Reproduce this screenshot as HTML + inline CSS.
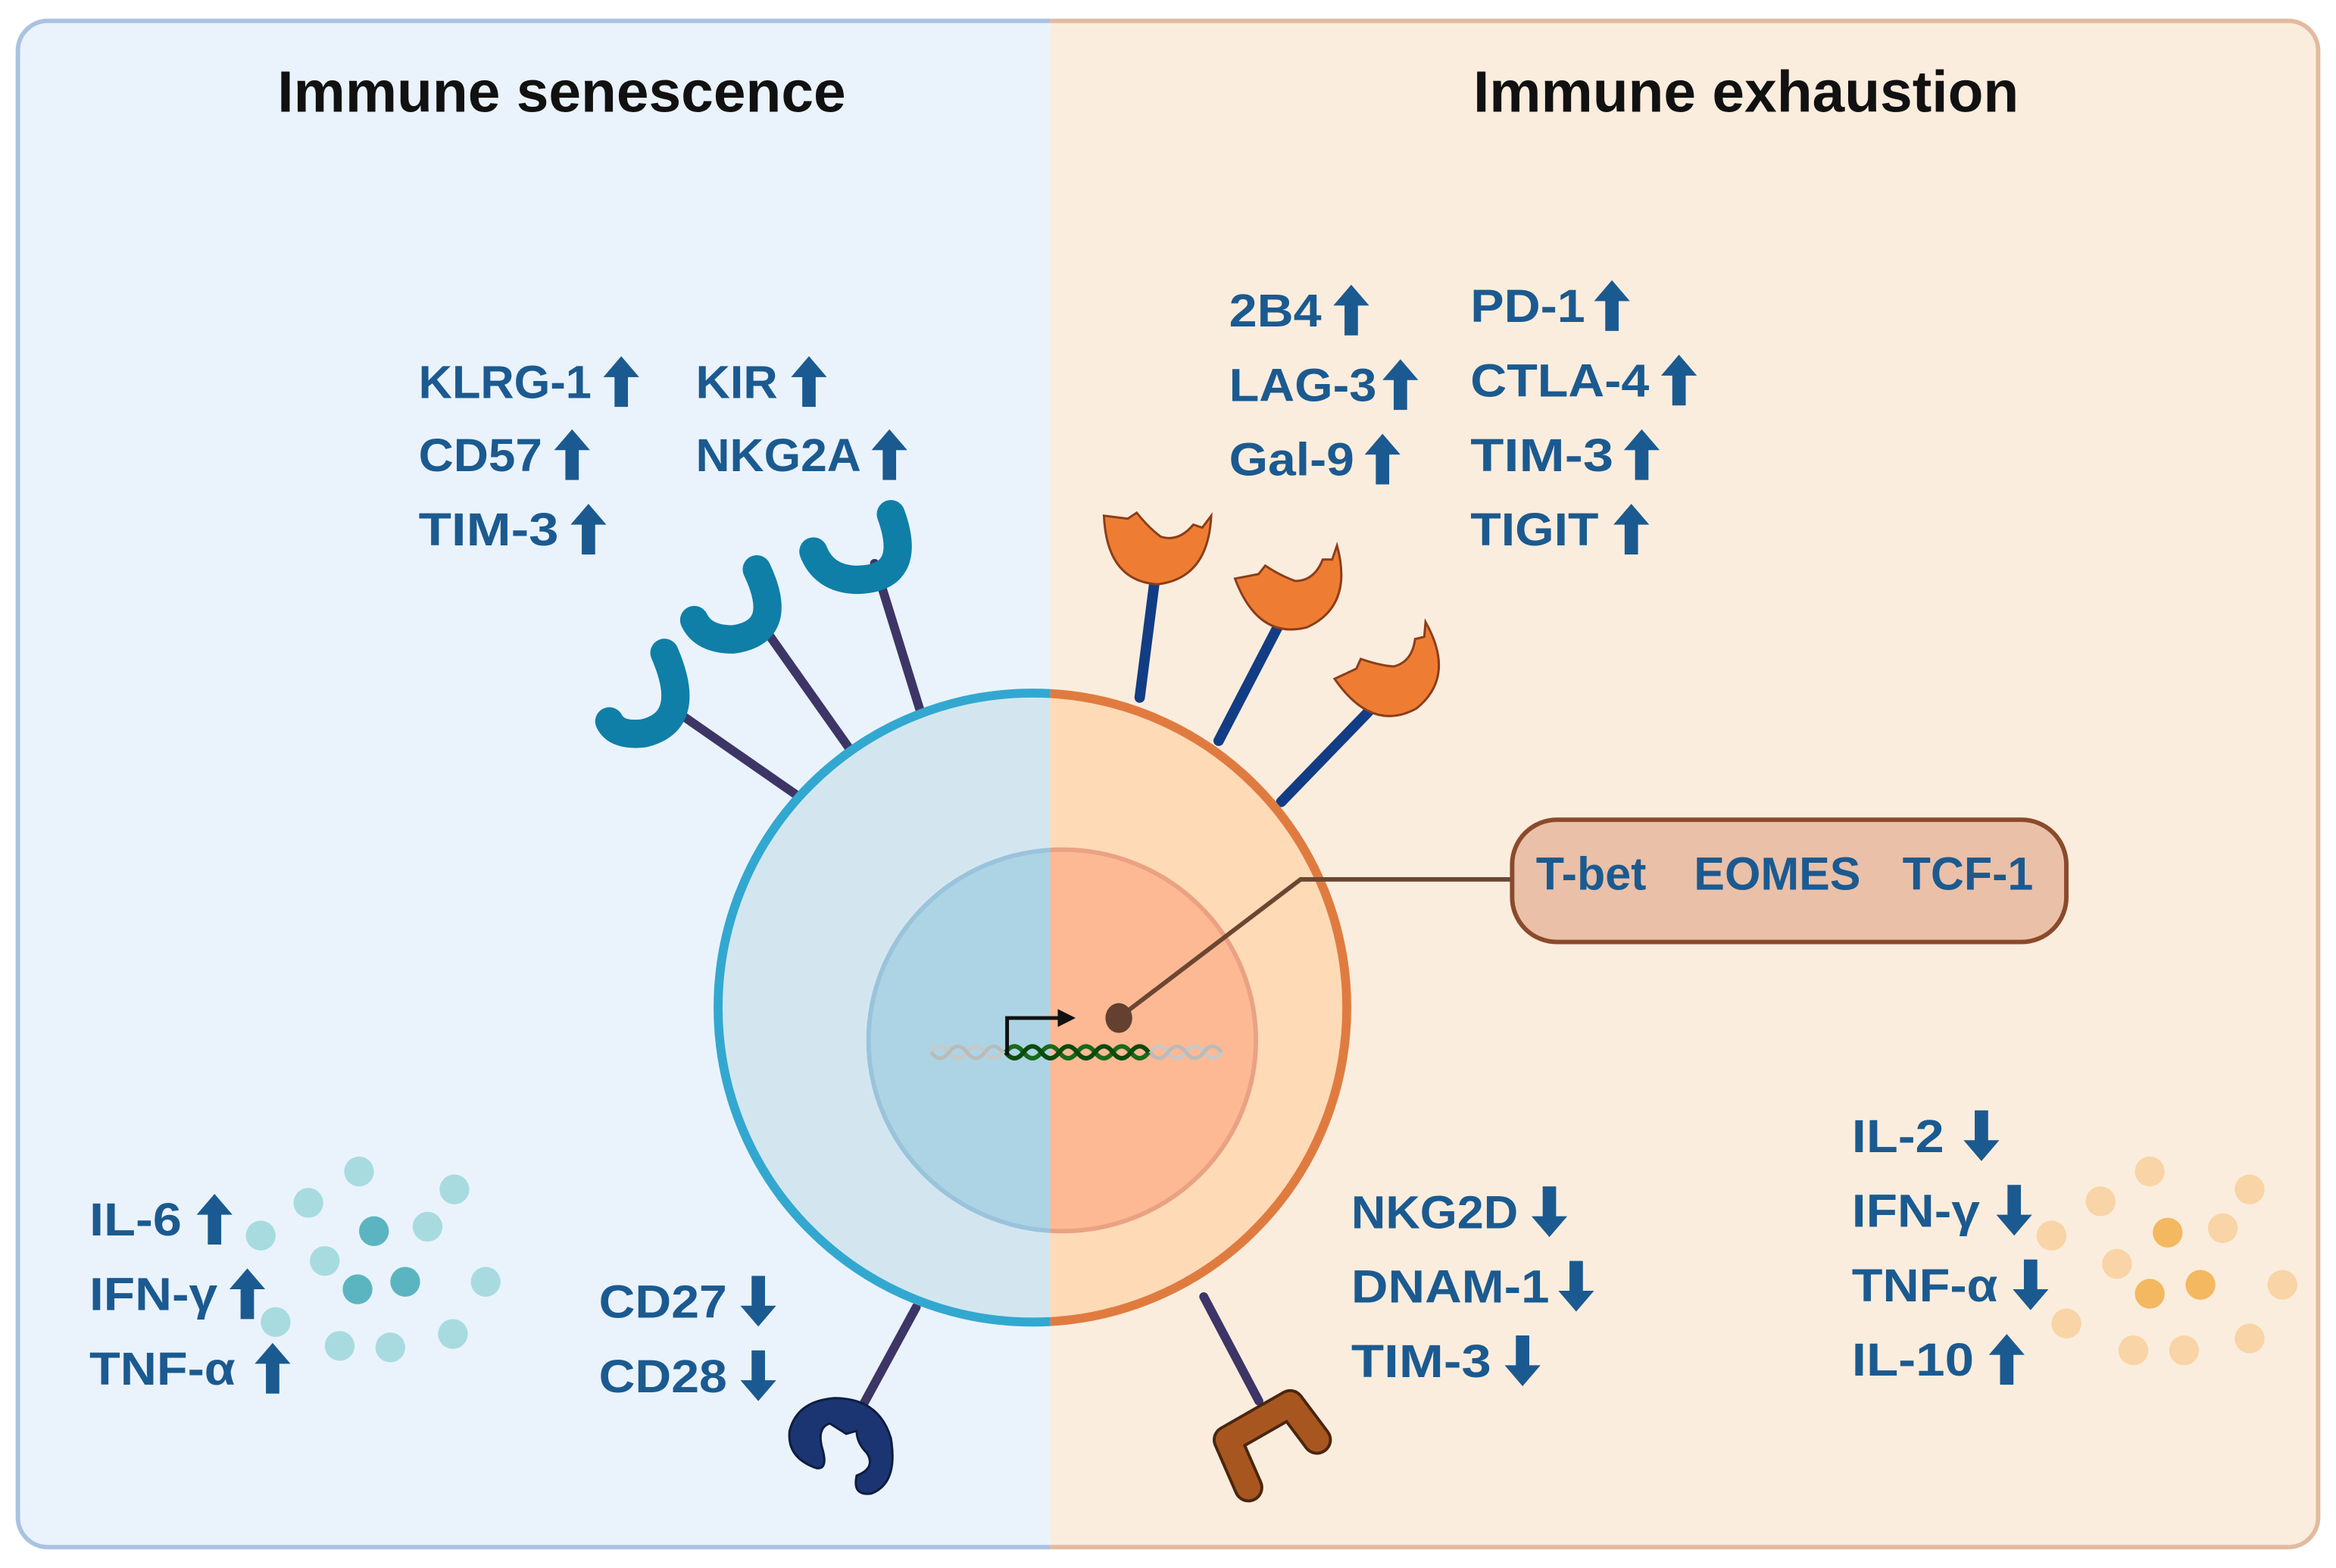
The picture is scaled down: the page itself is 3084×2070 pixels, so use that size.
<!DOCTYPE html>
<html><head><meta charset="utf-8"><style>
html,body{margin:0;padding:0;background:#fff;}
svg{display:block;}
text{font-family:"Liberation Sans",sans-serif;font-weight:bold;}
.l{fill:#1b5a90;font-size:31px;}
.t{fill:#111;font-size:39px;}
</style></head><body>
<svg width="3084" height="2070" viewBox="0 0 1568 1052" preserveAspectRatio="none" xmlns="http://www.w3.org/2000/svg">
<defs>
<symbol id="up" viewBox="-12 -17 24 34" overflow="visible"><path d="M0,-17 L12,-3 L4.5,-3 L4.5,17 L-4.5,17 L-4.5,-3 L-12,-3 Z" fill="#1b5a90"/></symbol>
<clipPath id="cl"><rect x="0" y="0" width="705" height="1052"/></clipPath>
<clipPath id="cr"><rect x="705" y="0" width="900" height="1052"/></clipPath>
<path id="bowl" d="M-36,-22 Q-34,22 0,24 Q34,20 36,-22 L30,-14 L24,-16 Q14,-4 2,-8 Q-6,-14 -14,-24 L-20,-20 Z" fill="#ee7d33" stroke="#8b3d1a" stroke-width="1.5"/>
</defs>
<rect x="0" y="0" width="1568" height="1052" fill="#fff"/>
<g clip-path="url(#cl)"><rect x="12" y="14" width="1544" height="1024" rx="20" fill="#eaf3fc" stroke="#a9c3e0" stroke-width="3"/></g>
<g clip-path="url(#cr)"><rect x="12" y="14" width="1544" height="1024" rx="20" fill="#fbeddd" stroke="#e2bba0" stroke-width="3"/></g>
<text class="t" x="377" y="75" text-anchor="middle">Immune senescence</text>
<text class="t" x="1172" y="75" text-anchor="middle">Immune exhaustion</text>

<g stroke="#3d3566" stroke-width="6" stroke-linecap="round">
<line x1="537" y1="535" x2="455" y2="478"/>
<line x1="570" y1="502" x2="512" y2="420"/>
<line x1="618" y1="478" x2="587" y2="378"/>
<line x1="615" y1="877" x2="578" y2="945"/>
<line x1="808" y1="870" x2="845" y2="940"/>
</g>
<g stroke="#0f7fa8" stroke-width="19" fill="none" stroke-linecap="round">
<path d="M446,438 Q466,484 432,492 Q414,494 409,484"/>
<path d="M508,382 Q528,424 492,429 Q472,429 466,416"/>
<path d="M598,345 Q614,389 574,389 Q553,388 546,370"/>
</g>
<g stroke="#123d85" stroke-width="7" stroke-linecap="round">
<line x1="765" y1="468" x2="775" y2="390"/>
<line x1="818" y1="497" x2="858" y2="420"/>
<line x1="860" y1="538" x2="920" y2="476"/>
</g>
<use href="#bowl" transform="translate(777,368)"/>
<use href="#bowl" transform="translate(870,398) rotate(-18)"/>
<use href="#bowl" transform="translate(938,455) rotate(-32)"/>

<g clip-path="url(#cl)"><circle cx="693" cy="676" r="211" fill="#d3e6ef" stroke="#32a8d0" stroke-width="6"/>
<ellipse cx="713" cy="698" rx="130" ry="128" fill="#acd4e4" stroke="#9ac3dc" stroke-width="3"/></g>
<g clip-path="url(#cr)"><circle cx="693" cy="676" r="211" fill="#ffdab6" stroke="#e07b40" stroke-width="6"/>
<ellipse cx="713" cy="698" rx="130" ry="128" fill="#fdb994" stroke="#eaa282" stroke-width="3"/></g>

<path d="M625,706 q6,-8 12,0 t12,0 t12,0 t12,0" fill="none" stroke="#c8c8c8" stroke-width="2.5"/>
<path d="M625,706 q6,8 12,0 t12,0 t12,0 t12,0" fill="none" stroke="#bbb" stroke-width="2.5"/>
<path d="M772,706 q6,-8 12,0 t12,0 t12,0 t12,0" fill="none" stroke="#c8c8c8" stroke-width="2.5"/>
<path d="M772,706 q6,8 12,0 t12,0 t12,0 t12,0" fill="none" stroke="#bbb" stroke-width="2.5"/>
<path d="M675,706 q6,-8 12,0 t12,0 t12,0 t12,0 t12,0 t12,0 t12,0 t12,0" fill="none" stroke="#1a6a1a" stroke-width="3"/>
<path d="M675,706 q6,8 12,0 t12,0 t12,0 t12,0 t12,0 t12,0 t12,0 t12,0" fill="none" stroke="#0d4a0d" stroke-width="3"/>
<path d="M676,708 L676,683 L712,683" fill="none" stroke="#111" stroke-width="2.5"/>
<path d="M710,677 L722,683 L710,689 Z" fill="#111"/>
<path d="M752,682 L873,590 L1015,590" fill="none" stroke="#6b4632" stroke-width="3"/>
<ellipse cx="751" cy="683" rx="9" ry="10" fill="#63402f"/>
<rect x="1015" y="550" width="372" height="82" rx="30" fill="#eac0a8" stroke="#8b4a2c" stroke-width="3"/>
<text class="l" x="1031" y="597" font-size="32">T-bet</text>
<text class="l" x="1137" y="597" font-size="32">EOMES</text>
<text class="l" x="1277" y="597" font-size="32">TCF-1</text>

<path d="M548,985 Q528,978 530,960 Q535,940 560,938 Q590,938 598,965 Q603,995 585,1002 Q572,1004 575,990 Q588,985 582,975 Q575,968 575,960 L568,962 L557,955 Q548,958 552,972 Q556,986 548,985 Z" fill="#1b3572" stroke="#0d1d40" stroke-width="1.5"/>
<path d="M838,998 L824,966 L866,942 L884,966" fill="none" stroke="#4a260f" stroke-width="20" stroke-linejoin="round" stroke-linecap="round"/>
<path d="M838,998 L824,966 L866,942 L884,966" fill="none" stroke="#a8561f" stroke-width="16" stroke-linejoin="round" stroke-linecap="round"/>

<g fill="#a8dbe0">
<circle cx="241" cy="786" r="10"/><circle cx="207" cy="807" r="10"/><circle cx="305" cy="798" r="10"/><circle cx="175" cy="829" r="10"/><circle cx="287" cy="823" r="10"/><circle cx="218" cy="846" r="10"/><circle cx="326" cy="860" r="10"/><circle cx="185" cy="887" r="10"/><circle cx="228" cy="903" r="10"/><circle cx="262" cy="904" r="10"/><circle cx="304" cy="895" r="10"/>
</g>
<g fill="#5bb5c0"><circle cx="251" cy="826" r="10"/><circle cx="240" cy="865" r="10"/><circle cx="272" cy="860" r="10"/></g>
<g fill="#f8d4a6">
<circle cx="1443" cy="786" r="10"/><circle cx="1410" cy="806" r="10"/><circle cx="1510" cy="798" r="10"/><circle cx="1377" cy="829" r="10"/><circle cx="1492" cy="824" r="10"/><circle cx="1421" cy="848" r="10"/><circle cx="1532" cy="862" r="10"/><circle cx="1387" cy="888" r="10"/><circle cx="1432" cy="906" r="10"/><circle cx="1466" cy="906" r="10"/><circle cx="1510" cy="898" r="10"/>
</g>
<g fill="#f4b860"><circle cx="1455" cy="827" r="10"/><circle cx="1443" cy="868" r="10"/><circle cx="1477" cy="862" r="10"/></g>

<g class="l">
<text class="l" x="281" y="267" textLength="116" lengthAdjust="spacingAndGlyphs">KLRG-1</text>
<text class="l" x="467" y="267" textLength="55" lengthAdjust="spacingAndGlyphs">KIR</text>
<text class="l" x="281" y="316" textLength="83" lengthAdjust="spacingAndGlyphs">CD57</text>
<text class="l" x="467" y="316" textLength="111" lengthAdjust="spacingAndGlyphs">NKG2A</text>
<text class="l" x="281" y="366" textLength="94" lengthAdjust="spacingAndGlyphs">TIM-3</text>
<text class="l" x="825" y="219" textLength="62" lengthAdjust="spacingAndGlyphs">2B4</text>
<text class="l" x="825" y="269" textLength="99" lengthAdjust="spacingAndGlyphs">LAG-3</text>
<text class="l" x="825" y="319" textLength="84" lengthAdjust="spacingAndGlyphs">Gal-9</text>
<text class="l" x="987" y="216" textLength="77" lengthAdjust="spacingAndGlyphs">PD-1</text>
<text class="l" x="987" y="266" textLength="120" lengthAdjust="spacingAndGlyphs">CTLA-4</text>
<text class="l" x="987" y="316" textLength="96" lengthAdjust="spacingAndGlyphs">TIM-3</text>
<text class="l" x="987" y="366" textLength="86" lengthAdjust="spacingAndGlyphs">TIGIT</text>
<text class="l" x="60" y="829" textLength="62" lengthAdjust="spacingAndGlyphs">IL-6</text>
<text class="l" x="60" y="879" textLength="86" lengthAdjust="spacingAndGlyphs">IFN-γ</text>
<text class="l" x="60" y="929" textLength="98" lengthAdjust="spacingAndGlyphs">TNF-α</text>
<text class="l" x="402" y="884" textLength="86" lengthAdjust="spacingAndGlyphs">CD27</text>
<text class="l" x="402" y="934" textLength="86" lengthAdjust="spacingAndGlyphs">CD28</text>
<text class="l" x="907" y="824" textLength="112" lengthAdjust="spacingAndGlyphs">NKG2D</text>
<text class="l" x="907" y="874" textLength="133" lengthAdjust="spacingAndGlyphs">DNAM-1</text>
<text class="l" x="907" y="924" textLength="94" lengthAdjust="spacingAndGlyphs">TIM-3</text>
<text class="l" x="1243" y="773" textLength="62" lengthAdjust="spacingAndGlyphs">IL-2</text>
<text class="l" x="1243" y="823" textLength="86" lengthAdjust="spacingAndGlyphs">IFN-γ</text>
<text class="l" x="1243" y="873" textLength="98" lengthAdjust="spacingAndGlyphs">TNF-α</text>
<text class="l" x="1243" y="923" textLength="82" lengthAdjust="spacingAndGlyphs">IL-10</text>
</g>
<g>
<use href="#up" x="405" y="239" width="24" height="34"/>
<use href="#up" x="531" y="239" width="24" height="34"/>
<use href="#up" x="372" y="288" width="24" height="34"/>
<use href="#up" x="585" y="288" width="24" height="34"/>
<use href="#up" x="383" y="338" width="24" height="34"/>
<use href="#up" x="895" y="191" width="24" height="34"/>
<use href="#up" x="928" y="241" width="24" height="34"/>
<use href="#up" x="916" y="291" width="24" height="34"/>
<use href="#up" x="1070" y="188" width="24" height="34"/>
<use href="#up" x="1115" y="238" width="24" height="34"/>
<use href="#up" x="1090" y="288" width="24" height="34"/>
<use href="#up" x="1083" y="338" width="24" height="34"/>
<use href="#up" x="132" y="801" width="24" height="34"/>
<use href="#up" x="154" y="851" width="24" height="34"/>
<use href="#up" x="171" y="901" width="24" height="34"/>
<use href="#up" x="1335" y="895" width="24" height="34"/>
</g>
<g transform="rotate(180)">
<use href="#up" x="-521" y="-890" width="24" height="34"/>
<use href="#up" x="-521" y="-940" width="24" height="34"/>
<use href="#up" x="-1052" y="-830" width="24" height="34"/>
<use href="#up" x="-1070" y="-880" width="24" height="34"/>
<use href="#up" x="-1034" y="-930" width="24" height="34"/>
<use href="#up" x="-1342" y="-779" width="24" height="34"/>
<use href="#up" x="-1364" y="-829" width="24" height="34"/>
<use href="#up" x="-1375" y="-879" width="24" height="34"/>
</g>
</svg>
</body></html>
